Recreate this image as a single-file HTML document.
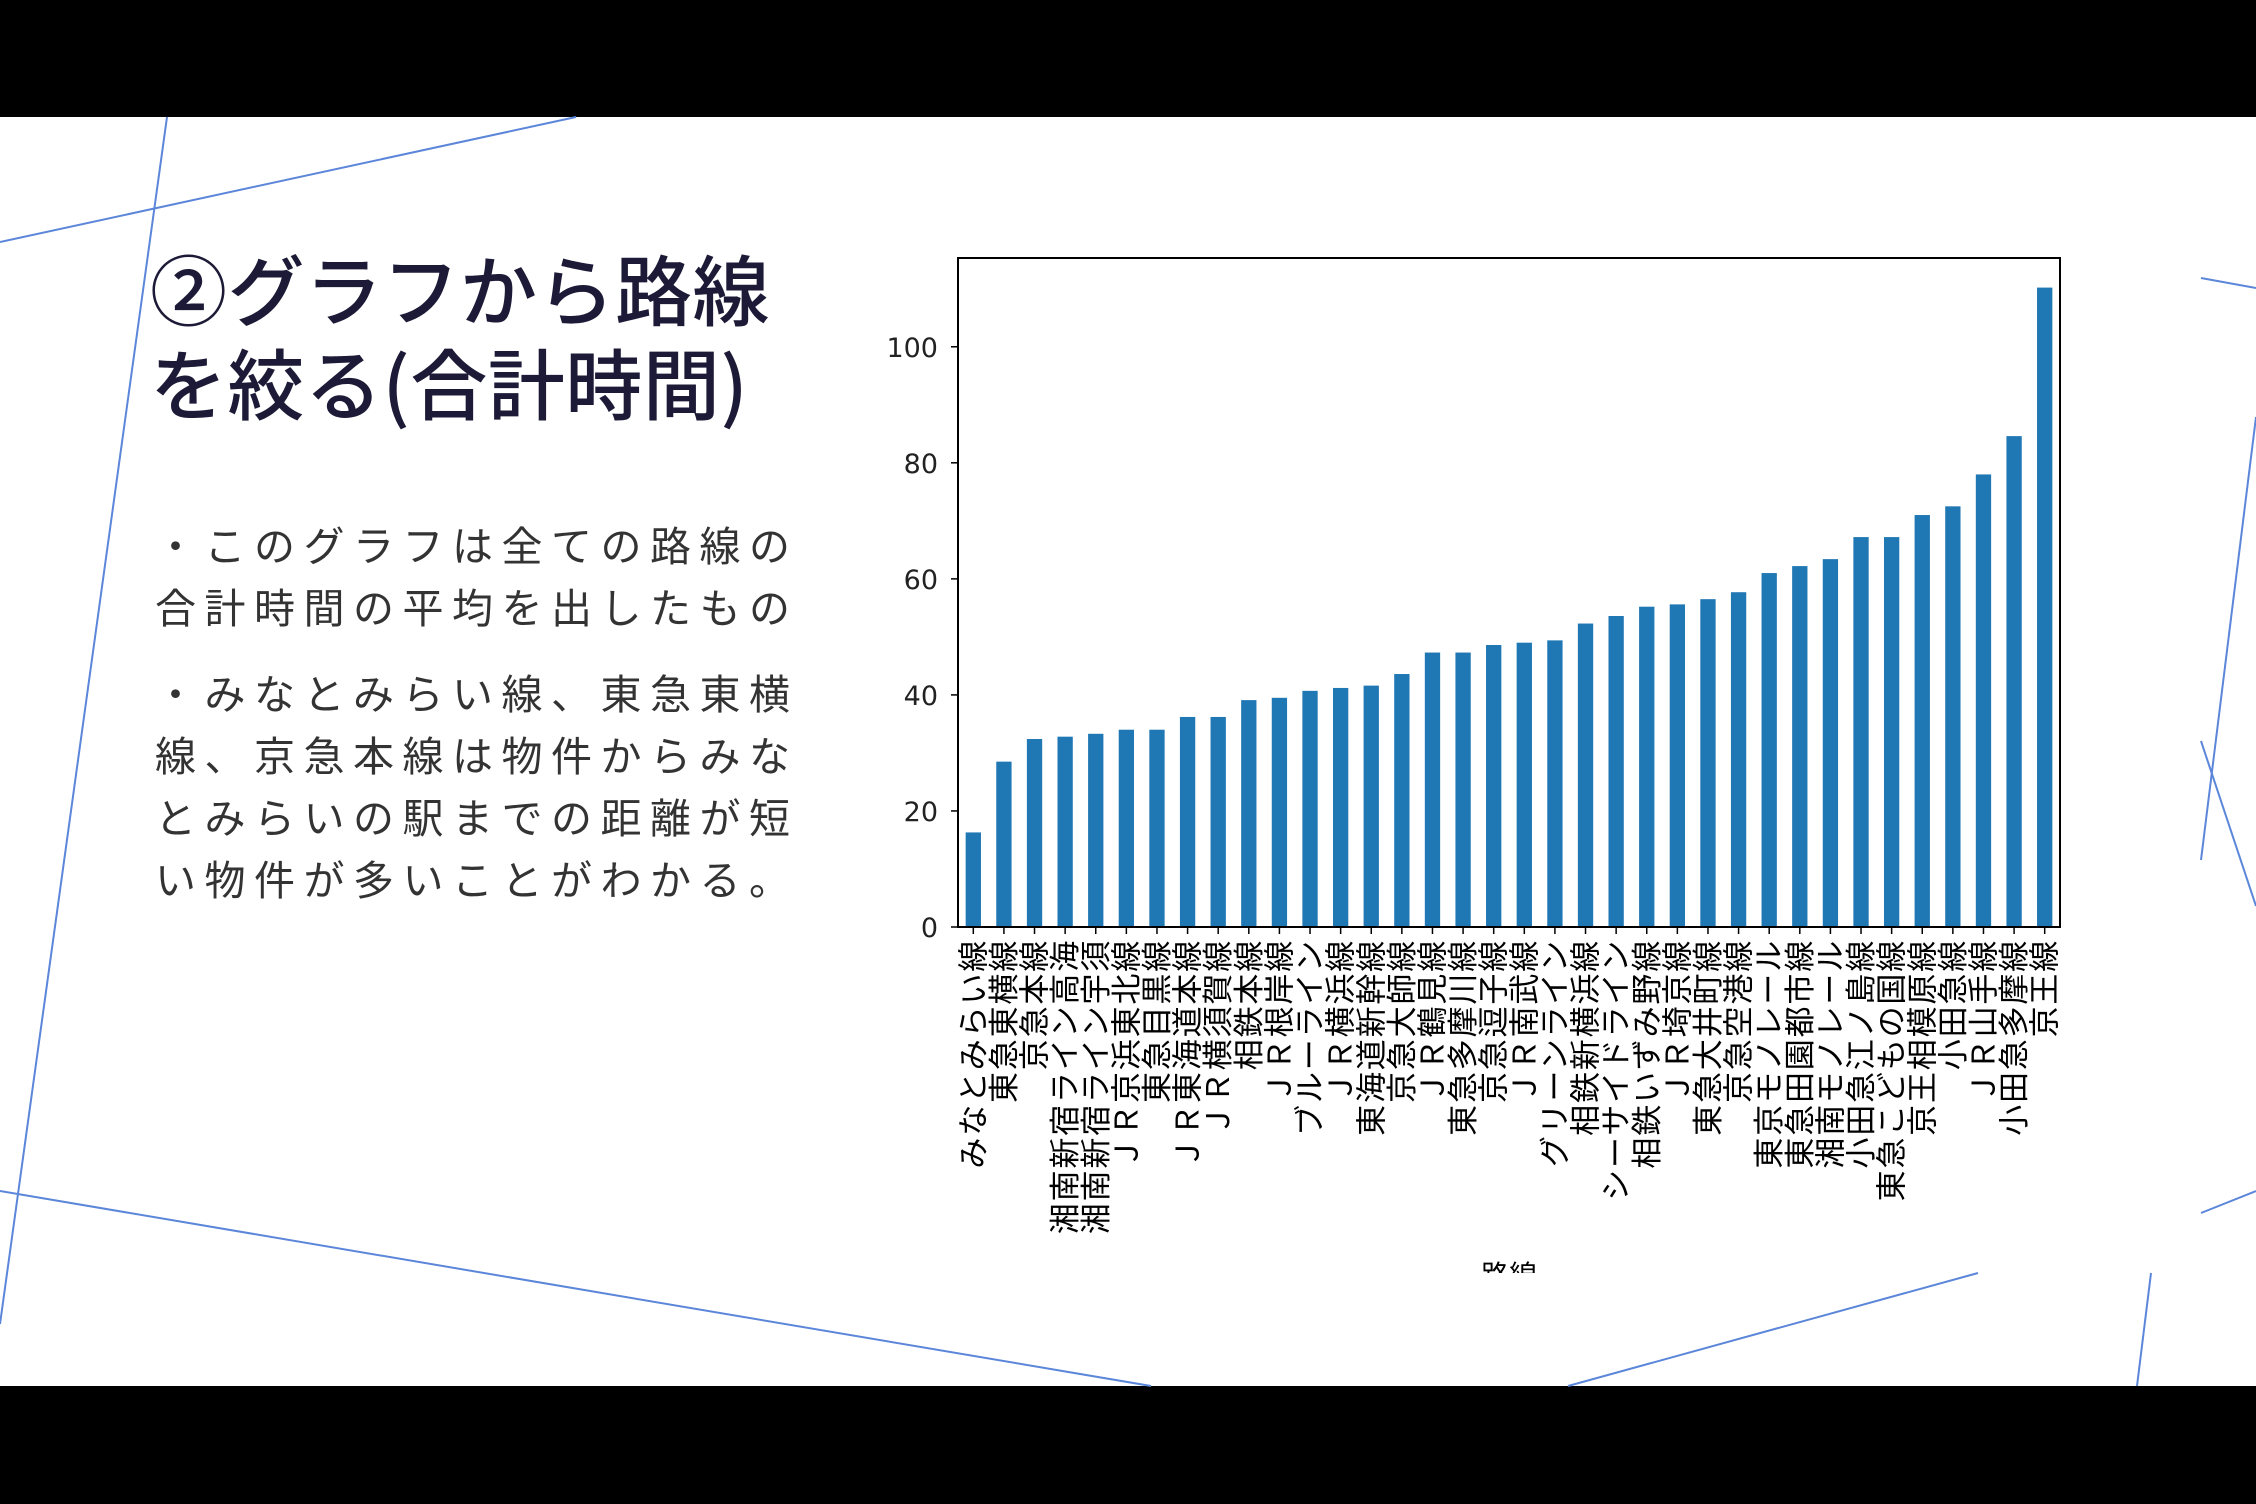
<!DOCTYPE html>
<html><head><meta charset="utf-8"><style>
html,body{margin:0;padding:0;width:2256px;height:1504px;overflow:hidden;background:#fff;}
body{position:relative;font-family:"Liberation Sans","Noto Sans CJK JP",sans-serif;}
.bar-black{position:absolute;left:0;width:2256px;background:#000;}
.title{position:absolute;left:150px;color:#1c1a36;font-family:"Noto Sans CJK JP",sans-serif;font-size:77px;line-height:94px;top:241px;letter-spacing:0.5px;white-space:nowrap;font-weight:500;}
.body{position:absolute;left:155px;color:#333;font-size:41px;letter-spacing:8.5px;white-space:nowrap;line-height:62px;}
</style></head><body>
<div class="bar-black" style="top:0;height:117px"></div>
<div class="bar-black" style="top:1386px;height:118px"></div>
<svg style="position:absolute;left:0;top:0" width="2256" height="1504">
<g stroke="#5b86d9" stroke-width="2" fill="none">
<line x1="0" y1="242" x2="576" y2="117"/>
<line x1="167" y1="117" x2="0" y2="1324"/>
<line x1="0" y1="1191" x2="1151" y2="1386"/>
<line x1="1568" y1="1386" x2="1978" y2="1273"/>
<line x1="2151" y1="1273" x2="2137" y2="1386"/>
<line x1="2201" y1="278" x2="2256" y2="288"/>
<line x1="2256" y1="417" x2="2201" y2="860"/>
<line x1="2201" y1="741" x2="2256" y2="906"/>
<line x1="2256" y1="1191" x2="2201" y2="1213"/>
</g></svg>
<div class="title">②グラフから路線<br>を絞る(合計時間)</div>
<div class="body" style="top:516px">・このグラフは全ての路線の<br>合計時間の平均を出したもの</div>
<div class="body" style="top:664px">・みなとみらい線、東急東横<br>線、京急本線は物件からみな<br>とみらいの駅までの距離が短<br>い物件が多いことがわかる。</div>
<svg id="chart" style="position:absolute;left:0;top:0" width="2256" height="1504"></svg>
<script>
const categories=["みなとみらい線","東急東横線","京急本線","湘南新宿ライン高海","湘南新宿ライン宇須","ＪＲ京浜東北線","東急目黒線","ＪＲ東海道本線","ＪＲ横須賀線","相鉄本線","ＪＲ根岸線","ブルーライン","ＪＲ横浜線","東海道新幹線","京急大師線","ＪＲ鶴見線","東急多摩川線","京急逗子線","ＪＲ南武線","グリーンライン","相鉄新横浜線","シーサイドライン","相鉄いずみ野線","ＪＲ埼京線","東急大井町線","京急空港線","東京モノレール","東急田園都市線","湘南モノレール","小田急江ノ島線","東急こどもの国線","京王相模原線","小田急線","ＪＲ山手線","小田急多摩線","京王線"];
const values=[16.3,28.5,32.4,32.8,33.3,34.0,34.0,36.2,36.2,39.1,39.5,40.7,41.2,41.6,43.6,47.3,47.3,48.6,49.0,49.4,52.3,53.6,55.2,55.6,56.5,57.7,61.0,62.2,63.4,67.2,67.2,71.0,72.5,78.0,84.6,110.2];
const yTicks=[0,20,40,60,80,100];
const NS="http://www.w3.org/2000/svg";
const svg=document.getElementById('chart');
const L=958,R=2060,T=258,B=927;
const yMax=115.3;
function y(v){return B-(v/yMax)*(B-T);}
function x(i){const step=(R-L)/categories.length;return L+step*(i+0.5);}
const bw=(R-L)/categories.length*0.5;
function mk(t,a){const e=document.createElementNS(NS,t);for(const k in a)e.setAttribute(k,a[k]);svg.appendChild(e);return e;}
values.forEach((v,i)=>{
 const r=mk('rect',{x:x(i)-bw/2,y:y(v),width:bw,height:B-y(v),fill:'#1f77b4'});
 
 
});
yTicks.forEach(t=>{
 mk('line',{x1:L-7,x2:L,y1:y(t),y2:y(t),stroke:'#000','stroke-width':1.5});
 const tx=mk('text',{x:L-20,y:y(t)+10,'text-anchor':'end','font-size':27,fill:'#222','font-family':'"DejaVu Sans",sans-serif'});
 tx.textContent=t;
 
 
});
categories.forEach((c,i)=>{
 mk('line',{x1:x(i),x2:x(i),y1:B,y2:B+7,stroke:'#000','stroke-width':1.5});
 const tx=mk('text',{transform:`translate(${x(i)+11},${B+12}) rotate(-90)`,'text-anchor':'end','font-size':31,'letter-spacing':1.8,fill:'#000','font-family':'"Noto Sans CJK JP",sans-serif'});
 tx.textContent=c;
 
 
});
const ax=mk('rect',{x:L,y:T,width:R-L,height:B-T,fill:'none',stroke:'#000','stroke-width':2});


const xt=mk('text',{x:(L+R)/2,y:1285,'text-anchor':'middle','font-size':28,fill:'#000','font-family':'"Noto Sans CJK JP",sans-serif'});
xt.textContent='路線';


const cover=mk('rect',{x:1400,y:1273,width:300,height:30,fill:'#fff'});


</script>
</body></html>
